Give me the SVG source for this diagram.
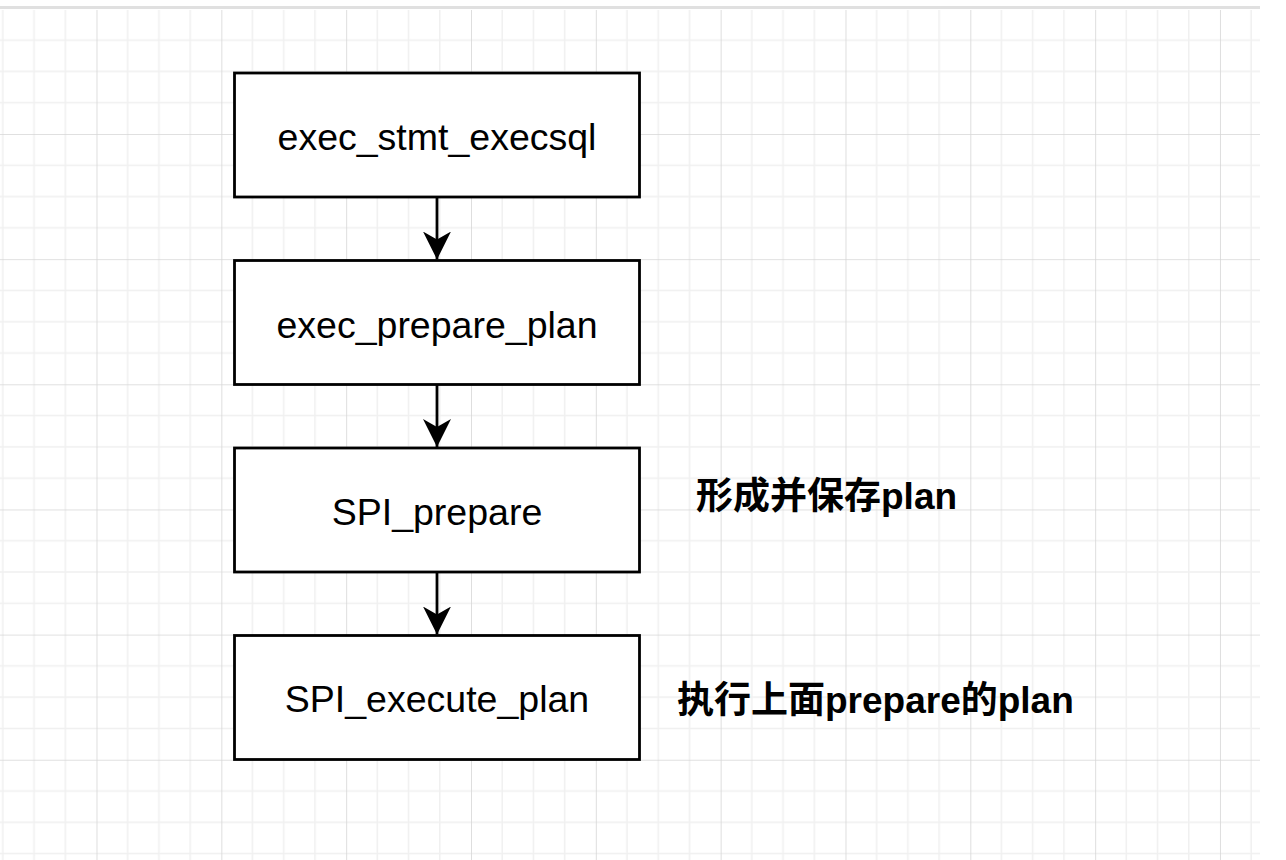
<svg xmlns="http://www.w3.org/2000/svg" width="1286" height="860" viewBox="0 0 1286 860">
  <style>
    .box { fill: #ffffff; stroke: #000000; stroke-width: 2.8; }
    .lbl { font-family: "Liberation Sans", Arial, "Noto Sans CJK SC", sans-serif; font-size: 37.5px; fill: #000000; text-anchor: middle; }
    .note { font-family: "Liberation Sans", Arial, "Noto Sans CJK SC", sans-serif; font-size: 37px; font-weight: bold; fill: #000000; }
    .conn { stroke: #000000; stroke-width: 2.8; fill: none; }
  </style>
  <defs>
    <pattern id="grid" x="-28.33" y="8.85" width="124.83" height="125.15" patternUnits="userSpaceOnUse">
      <path d="M31.21 0V125.15M62.42 0V125.15M93.62 0V125.15" stroke="#f0f0f0" stroke-width="1.6"/>
      <path d="M0 31.29H124.83M0 62.58H124.83M0 93.86H124.83" stroke="#f0f0f0" stroke-width="1.6"/>
      <path d="M0 0V125.15M0 0H124.83" stroke="#d6d6d6" stroke-width="1.6"/>
    </pattern>
    <marker id="arrow" viewBox="0 0 28 28" refX="28" refY="14" markerWidth="28" markerHeight="28" markerUnits="userSpaceOnUse" orient="auto">
      <path d="M28 14 L0 0 L8 14 L0 28 Z" fill="#000000"/>
    </marker>
  </defs>
  <rect x="0" y="0" width="1286" height="860" fill="#ffffff"/>
  <rect x="0" y="10" width="1260" height="850" fill="url(#grid)"/>
  <rect x="0" y="6" width="1260" height="3" fill="#e0e0e0"/>

  <g id="connectors">
    <path class="conn" d="M437 197 V259.5" marker-end="url(#arrow)"/>
    <path class="conn" d="M437 385 V447" marker-end="url(#arrow)"/>
    <path class="conn" d="M437 572 V634.5" marker-end="url(#arrow)"/>
  </g>

  <g id="node-exec_stmt_execsql">
    <rect class="box" x="234.5" y="73" width="405" height="124"/>
    <text class="lbl" x="437" y="150">exec_stmt_execsql</text>
  </g>
  <g id="node-exec_prepare_plan">
    <rect class="box" x="234.5" y="260.5" width="405" height="124"/>
    <text class="lbl" x="437" y="337.5">exec_prepare_plan</text>
  </g>
  <g id="node-SPI_prepare">
    <rect class="box" x="234.5" y="448" width="405" height="124"/>
    <text class="lbl" x="437" y="524.5">SPI_prepare</text>
  </g>
  <g id="node-SPI_execute_plan">
    <rect class="box" x="234.5" y="635.5" width="405" height="124"/>
    <text class="lbl" x="437" y="712">SPI_execute_plan</text>
  </g>

  <g id="note-prepare">
    <text class="note" x="696" y="509">形成并保存plan</text>
  </g>
  <g id="note-execute">
    <text class="note" x="677" y="713">执行上面prepare的plan</text>
  </g>
</svg>
